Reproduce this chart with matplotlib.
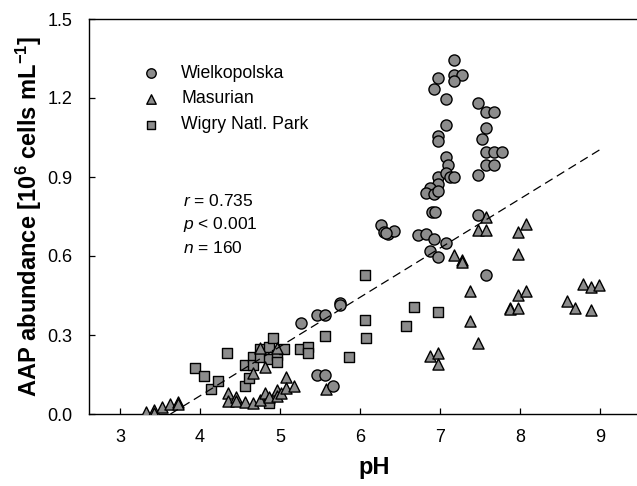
import numpy as np
import matplotlib
matplotlib.use("Agg")
import matplotlib.pyplot as plt

plt.rcParams['font.family'] = ['Liberation Sans', 'DejaVu Sans']
plt.rcParams['mathtext.fontset'] = 'custom'
plt.rcParams['mathtext.rm'] = 'Liberation Sans'
plt.rcParams['mathtext.it'] = 'Liberation Sans:italic'
plt.rcParams['mathtext.bf'] = 'Liberation Sans:bold'

# Wielkopolska (circles)
wiel_ph = [7.175, 6.97, 7.175, 7.275, 7.175, 6.92, 7.075, 7.48, 7.58, 7.68,
           7.075, 7.58, 6.97, 6.97, 7.53, 7.58, 7.68, 7.78, 7.58, 7.68,
           7.075, 7.10, 7.48, 6.97, 7.075, 7.125, 7.175, 6.97, 6.87, 6.82,
           6.92, 6.97, 6.90, 6.94, 7.48, 6.72, 6.82, 6.92, 7.075, 6.87,
           6.97, 7.58, 6.26, 6.30, 6.35, 6.42, 6.33, 5.75, 5.75, 5.46,
           5.56, 5.26, 5.46, 5.56, 5.66]
wiel_aap = [1.345, 1.275, 1.287, 1.287, 1.264, 1.236, 1.196, 1.18, 1.147, 1.147,
            1.096, 1.086, 1.056, 1.035, 1.045, 0.996, 0.996, 0.996, 0.946, 0.946,
            0.976, 0.946, 0.906, 0.899, 0.917, 0.899, 0.899, 0.874, 0.859, 0.841,
            0.836, 0.845, 0.766, 0.766, 0.756, 0.678, 0.683, 0.665, 0.649, 0.619,
            0.596, 0.529, 0.717, 0.690, 0.684, 0.694, 0.688, 0.423, 0.413, 0.376,
            0.376, 0.346, 0.148, 0.148, 0.107]

# Masurian (triangles)
masu_ph = [3.33, 3.43, 3.53, 3.63, 3.73, 3.73, 3.43,
           4.35, 4.35, 4.45, 4.45, 4.56, 4.66, 4.75, 4.81, 4.86, 4.96,
           4.96, 5.01, 5.07, 5.07, 5.17, 4.81, 4.66, 4.75, 4.96, 5.57,
           7.58, 7.48, 7.58, 7.98, 8.08, 7.98, 7.175, 7.275, 7.275, 7.375,
           7.98, 8.08, 8.59, 8.79, 8.89, 8.99, 7.88, 7.88, 7.98, 8.69,
           8.89, 7.375, 7.48, 6.87, 6.97, 6.97]
masu_aap = [0.009, 0.014, 0.026, 0.038, 0.047, 0.038, 0.005,
            0.081, 0.050, 0.063, 0.050, 0.045, 0.040, 0.053, 0.078, 0.063, 0.091,
            0.069, 0.078, 0.139, 0.100, 0.107, 0.177, 0.154, 0.251, 0.251, 0.095,
            0.747, 0.700, 0.700, 0.693, 0.720, 0.609, 0.602, 0.586, 0.577, 0.466,
            0.451, 0.467, 0.430, 0.495, 0.481, 0.490, 0.404, 0.399, 0.403, 0.403,
            0.394, 0.355, 0.270, 0.220, 0.230, 0.189]

# Wigry Natl. Park (squares)
wigry_ph = [3.94, 4.05, 4.14, 4.23, 4.34, 4.56, 4.61, 4.56, 4.66, 4.66,
            4.75, 4.75, 4.86, 4.86, 4.96, 4.96, 4.91, 4.86, 4.86, 5.05,
            5.25, 5.35, 5.35, 5.56, 5.86, 6.06, 6.06, 6.07, 6.57, 6.67,
            6.97]
wigry_aap = [0.175, 0.146, 0.096, 0.125, 0.232, 0.106, 0.135, 0.186, 0.217, 0.186,
             0.245, 0.217, 0.255, 0.207, 0.223, 0.198, 0.287, 0.053, 0.040, 0.245,
             0.245, 0.255, 0.232, 0.297, 0.217, 0.527, 0.356, 0.287, 0.336, 0.406,
             0.386]

# regression line
fit_slope = 0.187
fit_intercept = -0.679
fit_range = [3.63, 9.03]

fig = plt.figure(figsize=(6.37, 4.86), dpi=100)
ax = fig.add_axes([89/637, 72/486, 571/637, 395/486])

kw = dict(facecolor='#8c8c8c', edgecolor='black', linewidths=1.0, zorder=3)
ax.scatter(wigry_ph, wigry_aap, marker='s', s=52, label='Wigry Natl. Park', **kw)
ax.scatter(masu_ph, masu_aap, marker='^', s=64, label='Masurian', **kw)
ax.scatter(wiel_ph, wiel_aap, marker='o', s=64, label='Wielkopolska', **kw)

fx = np.array(fit_range)
ax.plot(fx, fit_slope*fx + fit_intercept, color='black', lw=0.9,
        dashes=(7, 4), zorder=4)

ax.set_xlim(2.6125, 9.75)
ax.set_ylim(0, 1.5)
ax.set_xticks(range(3, 10))
ax.set_yticks(np.arange(0, 1.51, 0.3))
ax.set_yticklabels(['%.1f' % v for v in np.arange(0, 1.51, 0.3)])
ax.tick_params(direction='in', length=4, width=0.9, labelsize=13)
ax.tick_params(axis='y', pad=12)
ax.tick_params(axis='x', pad=11)
ax.spines['right'].set_visible(False)
for s in ['left', 'bottom', 'top']:
    ax.spines[s].set_linewidth(1.0)

ax.set_xlabel('pH', fontsize=17, fontweight='bold', labelpad=7)
ax.set_ylabel(r'AAP abundance [10$^\mathbf{6}$ cells mL$^\mathbf{-1}$]',
              fontsize=17, fontweight='bold', labelpad=2)

h, l = ax.get_legend_handles_labels()
ax.legend(h[::-1], l[::-1], loc='upper left', bbox_to_anchor=(0.05, 0.925),
          frameon=False, fontsize=12.7, handletextpad=0.7, labelspacing=0.5,
          scatterpoints=1, markerscale=0.85)

ax.text(0.165, 0.56, '$r$ = 0.735\n$p$ < 0.001\n$n$ = 160', transform=ax.transAxes,
        fontsize=12.5, va='top', ha='left', linespacing=1.45)

fig.savefig('out.png', dpi=100)
